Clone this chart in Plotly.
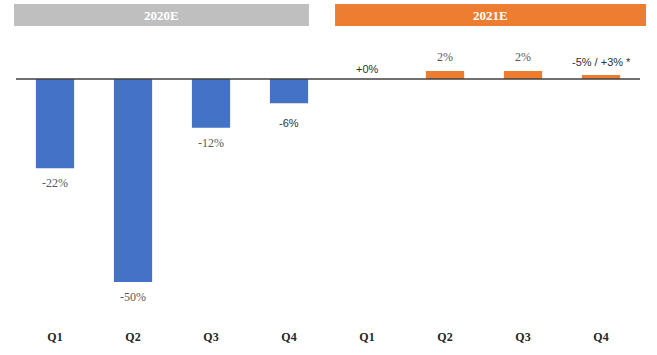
import plotly.graph_objects as go

quarters = ["Q1", "Q2", "Q3", "Q4", "Q1", "Q2", "Q3", "Q4"]
years = ["2020E", "2021E"]
values_2020 = [-22, -50, -12, -6]
values_2021 = [0, 2, 2, 1]
labels_2020 = ["-22%", "-50%", "-12%", "-6%"]
labels_2021 = ["+0%", "2%", "2%", "-5% / +3% *"]
serif_2020 = [True, True, True, False]
serif_2021 = [False, True, True, False]

BLUE = "#4472C4"
ORANGE = "#ED7D31"
GRAY = "#BFBFBF"

x2020 = list(range(0, 4))
x2021 = list(range(4, 8))

fig = go.Figure()
fig.add_trace(go.Bar(x=x2020, y=values_2020, marker_color=BLUE, width=0.49,
                     marker_line_width=0, showlegend=False, hoverinfo="skip"))
fig.add_trace(go.Bar(x=x2021, y=values_2021, marker_color=ORANGE, width=0.49,
                     marker_line_width=0, showlegend=False, hoverinfo="skip"))

annotations = []
for xs, vals, labs, serif in [(x2020, values_2020, labels_2020, serif_2020),
                              (x2021, values_2021, labels_2021, serif_2021)]:
    for xi, v, lab, s in zip(xs, vals, labs, serif):
        neg = v < 0
        annotations.append(dict(
            x=xi, y=v, xref="x", yref="y", text=lab, showarrow=False,
            yanchor="top" if neg else "bottom",
            yshift=(-6 if s else -12) if neg else (5 if s or v > 0 else 2),
            font=dict(family="Liberation Serif" if s else "Liberation Sans",
                      size=12 if s else 11,
                      color="#595959" if s else "#303030"),
        ))

# header boxes
headers = [(-0.526, 3.256, GRAY, years[0]), (3.59, 7.577, ORANGE, years[1])]
shapes = []
for x0, x1, col, txt in headers:
    shapes.append(dict(type="rect", xref="x", yref="y", x0=x0, x1=x1, y0=13.05, y1=18.47,
                       fillcolor=col, line_width=0, layer="below"))
    annotations.append(dict(x=(x0 + x1) / 2, y=15.76, xref="x", yref="y", text="<b>%s</b>" % txt,
                            showarrow=False, font=dict(family="Liberation Serif", size=13, color="white")))

# baseline
shapes.append(dict(type="line", xref="x", yref="y", x0=-0.5, x1=7.5, y0=0, y1=0,
                   line=dict(color="#404040", width=1.5)))

fig.update_layout(
    width=657, height=355,
    margin=dict(l=8, r=8, t=0, b=33),
    paper_bgcolor="white", plot_bgcolor="white",
    shapes=shapes, annotations=annotations,
    bargap=0.5,
    xaxis=dict(range=[-0.6026, 7.615], tickmode="array", tickvals=list(range(8)),
               ticktext=["<b>%s</b>" % q for q in quarters],
               showgrid=False, zeroline=False, showline=False, ticks="",
               tickfont=dict(family="Liberation Serif", size=12, color="#262626"),
               ticklabelstandoff=6),
    yaxis=dict(range=[-59.85, 19.46], visible=False, showgrid=False, zeroline=False),
)

fig.write_html("out.html", config={"displayModeBar": False},
               post_script="document.body.style.margin='0';document.body.style.overflow='hidden';")
